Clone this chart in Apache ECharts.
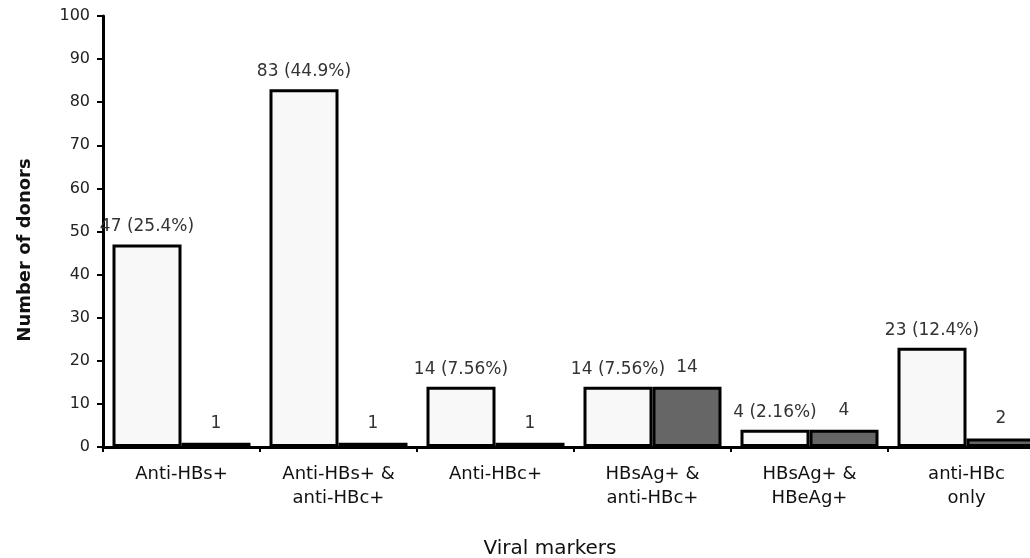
<!DOCTYPE html>
<html>
<head>
<meta charset="utf-8">
<script src="https://cdn.jsdelivr.net/npm/echarts@6/dist/echarts.min.js"></script>
<style>html,body{margin:0;padding:0;background:#fff}#c{width:1030px;height:558px}</style>
</head>
<body>
<div id="c"></div>
<script>
var categories = ['Anti-HBs+', 'Anti-HBs+ &\nanti-HBc+', 'Anti-HBc+', 'HBsAg+ &\nanti-HBc+', 'HBsAg+ &\nHBeAg+', 'anti-HBc\nonly'];
var lightValues = [47, 83, 14, 14, 4, 23];
var lightLabels = ['47 (25.4%)', '83 (44.9%)', '14 (7.56%)', '14 (7.56%)', '4 (2.16%)', '23 (12.4%)'];
var darkValues = [1, 1, 1, 14, 4, 2];
var yTicks = [0, 10, 20, 30, 40, 50, 60, 70, 80, 90, 100];

var chart = echarts.init(document.getElementById('c'), null, {renderer: 'canvas'});
var FONT = 'DejaVu Sans';
chart.setOption({
  animation: false,
  backgroundColor: '#ffffff',
  grid: {left: 103, top: 16, width: 942, bottom: 111, containLabel: false, outerBoundsMode: 'none'},
  xAxis: {
    type: 'category',
    data: categories,
    axisLine: {show: true, lineStyle: {color: '#000', width: 3}},
    axisTick: {show: true, length: 5, lineStyle: {color: '#000', width: 2}, alignWithLabel: false},
    axisLabel: {interval: 0, margin: 15, color: '#111', fontFamily: FONT, fontSize: 18, lineHeight: 24},
    splitLine: {show: false}
  },
  yAxis: {
    type: 'value',
    min: yTicks[0],
    max: yTicks[yTicks.length - 1],
    interval: 10,
    axisLine: {show: true, lineStyle: {color: '#000', width: 3}},
    axisTick: {show: true, length: 6, lineStyle: {color: '#000', width: 2}},
    axisLabel: {margin: 13, color: '#222', fontFamily: FONT, fontSize: 16},
    splitLine: {show: false}
  },
  graphic: [
    {type: 'text', x: 25, y: 250, rotation: Math.PI / 2,
     style: {text: 'Number of donors', font: 'bold 18px "DejaVu Sans"', fill: '#111', align: 'center', verticalAlign: 'middle'}},
    {type: 'text', x: 550, y: 549,
     style: {text: 'Viral markers', font: '20px "DejaVu Sans"', fill: '#111', align: 'center', verticalAlign: 'middle'}}
  ],
  series: [
    {
      type: 'bar',
      data: lightValues,
      barWidth: 69,
      barGap: '0%',
      itemStyle: {color: '#f8f8f8', borderColor: '#000', borderWidth: 3},
      label: {show: true, position: 'top', distance: 9, color: '#333', fontFamily: FONT, fontSize: 17,
        formatter: function (p) { return lightLabels[p.dataIndex]; }}
    },
    {
      type: 'bar',
      data: darkValues,
      barWidth: 69,
      barGap: '0%',
      itemStyle: {color: '#666666', borderColor: '#000', borderWidth: 3},
      label: {show: true, position: 'top', distance: 11, color: '#333', fontFamily: FONT, fontSize: 17}
    }
  ]
});
</script>
</body>
</html>
